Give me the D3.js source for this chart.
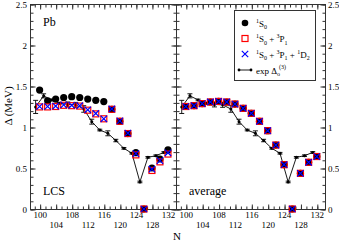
<!DOCTYPE html>
<html><head><meta charset="utf-8">
<script src="https://cdn.jsdelivr.net/npm/d3@7"></script>
<style>
html,body{margin:0;padding:0;background:#fff;}
svg{display:block;}
svg text{font-family:"Liberation Serif","Times New Roman","DejaVu Serif",serif;}
</style></head>
<body><svg id="c" width="339" height="242" font-family="Liberation Serif, serif"></svg>
<script>
// ---- data ----
const nEven = [100,102,104,106,108,110,112,114,116,118,120,122,124,126,128,130,132];
const lcsS0      = [1.45,1.32,1.34,1.36,1.37,1.36,1.34,1.325,1.31,1.216,1.07,0.92,0.687,0,0.50,0.61,0.72];
const lcsS0P1    = [1.245,1.245,1.25,1.265,1.26,1.255,1.205,1.16,1.10,1.216,1.07,0.92,0.66,0,0.47,0.575,0.67];
const lcsS0P1D2  = [1.25,1.25,1.255,1.27,1.265,1.26,1.21,1.165,1.10,1.22,1.075,0.925,0.675,0,0.485,0.59,0.685];
const avgS0      = [1.25,1.26,1.285,1.305,1.312,1.305,1.28,1.228,1.167,1.07,0.955,0.78,0.54,0,0.435,0.57,0.64];
const avgS0P1    = [1.25,1.26,1.285,1.305,1.312,1.305,1.28,1.228,1.167,1.07,0.955,0.78,0.54,0,0.435,0.57,0.64];
const avgS0P1D2  = [1.25,1.26,1.285,1.305,1.312,1.305,1.28,1.228,1.167,1.07,0.955,0.78,0.54,0,0.435,0.57,0.64];
const nOdd = [99,101,103,105,107,109,111,113,115,117,119,121,123,125,127,129,131];
const expD3 = [1.245,1.38,1.33,1.29,1.275,1.27,1.22,1.065,0.963,0.923,0.835,0.74,0.68,0.33,0.63,0.65,0.69];
const expErr = [0.08,0.025,0.01,0.01,0.03,0.03,0.04,0.03,0.01,0.03,0.015,0.01,0.01,0.01,0.01,0.01,0.01];
const xTickVals = [100,104,108,112,116,120,124,128,132];
const yTickVals = [0,0.5,1,1.5,2,2.5];
const yTickLabels = ["0","0.5","1","1.5","2","2.5"];

// ---- layout ----
const FONT = "Liberation Serif";
const svg = d3.select("#c");
const plotTop = 4, plotBottom = 209;
const panels = [
  {x0:30, x1:176, s0:lcsS0, s1:lcsS0P1, s2:lcsS0P1D2, label:"LCS", side:"left"},
  {x0:176, x1:325, s0:avgS0, s1:avgS0P1, s2:avgS0P1D2, label:"average", side:"right"}
];
const y = d3.scaleLinear().domain([0,2.5]).range([plotBottom, plotTop]);
const frameColor = "#333";
const minorX = d3.range(0,28).map(i => 96 + i*4/3).filter(v => v>97.7 && v<134);
const minorY = d3.range(0,26).map(i => i/10);

panels.forEach((p, pi) => {
  const x = d3.scaleLinear().domain([97.6,134]).range([p.x0, p.x1]);
  const g = svg.append("g");
  g.append("rect").attr("x",p.x0+0.5).attr("y",plotTop+0.5).attr("width",p.x1-p.x0).attr("height",plotBottom-plotTop)
    .attr("fill","none").attr("stroke",frameColor).attr("stroke-width",1);

  const mkX = (axisFn, ty, vals, size) => {
    const a = g.append("g").attr("transform",`translate(0.5,${ty})`)
      .call(axisFn(x).tickValues(vals).tickSize(size).tickFormat(""));
    a.select(".domain").remove();
    a.selectAll("line").attr("stroke",frameColor);
  };
  mkX(d3.axisBottom, plotBottom+0.5, xTickVals, -5);
  mkX(d3.axisBottom, plotBottom+0.5, minorX, -3);
  mkX(d3.axisTop, plotTop+0.5, xTickVals, -5);
  mkX(d3.axisTop, plotTop+0.5, minorX, -3);
  g.selectAll("text.xl").data(xTickVals).enter().append("text")
    .attr("x", d => x(d)+0.5).attr("y", (d,i) => i%2===0 ? 217.5 : 227.5)
    .attr("text-anchor","middle").attr("font-family",FONT).attr("font-size",9).attr("fill","#000").text(d => d);

  const mkY = (axisFn, tx, vals, size) => {
    const a = g.append("g").attr("transform",`translate(${tx},0.5)`)
      .call(axisFn(y).tickValues(vals).tickSize(size).tickFormat(""));
    a.select(".domain").remove();
    a.selectAll("line").attr("stroke",frameColor);
  };
  mkY(d3.axisLeft, p.x0+0.5, yTickVals, -5);
  mkY(d3.axisLeft, p.x0+0.5, minorY, -3);
  mkY(d3.axisRight, p.x1+0.5, yTickVals, -5);
  mkY(d3.axisRight, p.x1+0.5, minorY, -3);
  g.selectAll("text.yl").data(yTickVals).enter().append("text")
    .attr("x", p.side==="left" ? p.x0-3 : p.x1+3)
    .attr("y", d => y(d)+3.5)
    .attr("text-anchor", p.side==="left" ? "end" : "start")
    .attr("font-family",FONT).attr("font-size",9).attr("fill","#000").text((d,i) => yTickLabels[i]);

  const expPts = nOdd.map((n,i) => ({n, v:expD3[i], e:expErr[i]}));
  g.append("path").datum(expPts)
    .attr("d", d3.line().x(d => x(d.n)).y(d => y(d.v)))
    .attr("fill","none").attr("stroke","#000").attr("stroke-width",0.9);
  const eb = g.selectAll("g.eb").data(expPts).enter().append("g");
  eb.append("line").attr("x1",d=>x(d.n)).attr("x2",d=>x(d.n))
    .attr("y1",d=>y(d.v-d.e)).attr("y2",d=>y(d.v+d.e)).attr("stroke","#000").attr("stroke-width",0.9);
  eb.append("line").attr("x1",d=>x(d.n)-2.5).attr("x2",d=>x(d.n)+2.5)
    .attr("y1",d=>y(d.v-d.e)).attr("y2",d=>y(d.v-d.e)).attr("stroke","#000").attr("stroke-width",0.9);
  eb.append("line").attr("x1",d=>x(d.n)-2.5).attr("x2",d=>x(d.n)+2.5)
    .attr("y1",d=>y(d.v+d.e)).attr("y2",d=>y(d.v+d.e)).attr("stroke","#000").attr("stroke-width",0.9);
  eb.append("circle").attr("cx",d=>x(d.n)).attr("cy",d=>y(d.v)).attr("r",1.5).attr("fill","#000");

  g.selectAll("circle.s0").data(nEven).enter().append("circle")
    .attr("cx",d=>x(d)).attr("cy",(d,i)=>y(p.s0[i])).attr("r",3.6).attr("fill","#000");
  g.selectAll("rect.s1").data(nEven).enter().append("rect")
    .attr("x",d=>x(d)-3).attr("y",(d,i)=>y(p.s1[i])-3).attr("width",6).attr("height",6)
    .attr("fill","none").attr("stroke","#ff0000").attr("stroke-width",1.2);
  const xs = g.selectAll("g.s2").data(nEven).enter().append("g")
    .attr("transform",(d,i)=>`translate(${x(d)},${y(p.s2[i])})`);
  xs.append("path").attr("d","M-3.2,-3.2L3.2,3.2M-3.2,3.2L3.2,-3.2")
    .attr("stroke","#0000ff").attr("stroke-width",1.2).attr("fill","none");

  g.append("text").attr("x", p.x0+13).attr("y",195).attr("font-family",FONT).attr("font-size",12).attr("fill","#000").text(p.label);
});

svg.append("text").attr("x",43).attr("y",26).attr("font-family",FONT).attr("font-size",12).attr("fill","#000").text("Pb");

svg.append("text").attr("transform","translate(12,106) rotate(-90)").attr("text-anchor","middle")
  .attr("font-family",FONT).attr("font-size",11).attr("fill","#000").text("Δ (MeV)");
svg.append("text").attr("x",177).attr("y",239.5).attr("text-anchor","middle")
  .attr("font-family",FONT).attr("font-size",11).attr("fill","#000").text("N");

const lg = svg.append("g");
lg.append("rect").attr("x",234.5).attr("y",10.5).attr("width",81).attr("height",70)
  .attr("fill","#fff").attr("stroke",frameColor).attr("stroke-width",1);
const ly = [23,38.5,54,70];
const mx = 245, tx = 256;
lg.append("circle").attr("cx",mx).attr("cy",ly[0]).attr("r",3.3).attr("fill","#000");
lg.append("rect").attr("x",mx-3).attr("y",ly[1]-3).attr("width",6).attr("height",6)
  .attr("fill","none").attr("stroke","#ff0000").attr("stroke-width",1.2);
lg.append("path").attr("d",`M${mx-3.2},${ly[2]-3.2}L${mx+3.2},${ly[2]+3.2}M${mx-3.2},${ly[2]+3.2}L${mx+3.2},${ly[2]-3.2}`)
  .attr("stroke","#0000ff").attr("stroke-width",1.2);
lg.append("line").attr("x1",238).attr("x2",252).attr("y1",ly[3]).attr("y2",ly[3]).attr("stroke","#000").attr("stroke-width",0.9);
lg.append("circle").attr("cx",239).attr("cy",ly[3]).attr("r",1.4).attr("fill","#000");
lg.append("circle").attr("cx",251).attr("cy",ly[3]).attr("r",1.4).attr("fill","#000");

const legendItems = [
  [["sup","1"],["n","S"],["sub","0"]],
  [["sup","1"],["n","S"],["sub","0"],["n"," + "],["sup","3"],["n","P"],["sub","1"]],
  [["sup","1"],["n","S"],["sub","0"],["n"," + "],["sup","3"],["n","P"],["sub","1"],["n"," + "],["sup","1"],["n","D"],["sub","2"]],
  [["n","exp Δ"],["subsup","o","(3)"]]
];
legendItems.forEach((parts, i) => {
  const t = lg.append("text").attr("x",tx).attr("y",ly[i]+3.5).attr("font-family",FONT).attr("font-size",9).attr("fill","#000");
  let shift = 0;
  parts.forEach(pt => {
    if (pt[0]==="n") { t.append("tspan").attr("dy",-shift).attr("font-size",9).text(pt[1]); shift = 0; }
    else if (pt[0]==="sup") { t.append("tspan").attr("dy",-shift-4).attr("font-size",6).text(pt[1]); shift = -4; }
    else if (pt[0]==="sub") { t.append("tspan").attr("dy",-shift+2.5).attr("font-size",6).text(pt[1]); shift = 2.5; }
    else if (pt[0]==="subsup") {
      t.append("tspan").attr("dy",-shift+2.5).attr("font-size",6).text(pt[1]);
      t.append("tspan").attr("dy",-7.5).attr("dx",-1).attr("font-size",6).text(pt[2]);
      shift = -5;
    }
  });
});
</script></body></html>
